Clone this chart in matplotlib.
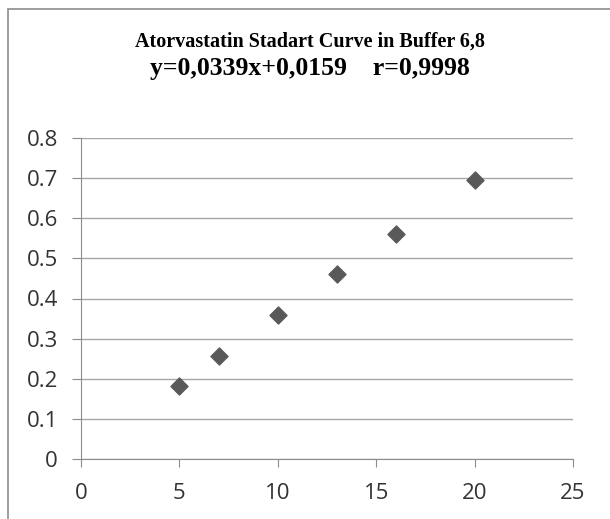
import matplotlib.pyplot as plt
from matplotlib.patches import Rectangle

# concentracion vs absorbancia
conc = [5, 7, 10, 13, 16, 20]
absorb = [0.182, 0.257, 0.359, 0.461, 0.561, 0.695]
y_ticks = [0, 0.1, 0.2, 0.3, 0.4, 0.5, 0.6, 0.7, 0.8]
y_labels = ["0", "0.1", "0.2", "0.3", "0.4", "0.5", "0.6", "0.7", "0.8"]
x_ticks = [0, 5, 10, 15, 20, 25]

fig = plt.figure(figsize=(6.10, 5.19), dpi=100)
fig.patches.append(Rectangle((8 / 610, -0.1), 1.2, 1 - 9 / 519 + 0.1, transform=fig.transFigure,
                             fill=False, edgecolor="#8c8c8c", linewidth=1.2))

ax = fig.add_axes([81 / 610, 60 / 519, 492 / 610, 321 / 519])
ax.scatter(conc, absorb, marker="D", s=75, color="#595959", zorder=3)

ax.set_xlim(0, 25)
ax.set_ylim(0, 0.8)
ax.set_xticks(x_ticks)
ax.set_yticks(y_ticks)
ax.set_yticklabels(y_labels)
ax.grid(axis="y", color="#a6a6a6", linewidth=1)
ax.set_axisbelow(True)

for s in ["top", "right"]:
    ax.spines[s].set_visible(False)
for s in ["left", "bottom"]:
    ax.spines[s].set_color("#8c8c8c")
ax.tick_params(colors="#8c8c8c", labelcolor="#333333", labelsize=16)
ax.tick_params(axis="y", length=6.7, pad=10)
ax.tick_params(axis="x", length=5.5, pad=12)
for lbl in ax.get_xticklabels() + ax.get_yticklabels():
    lbl.set_fontfamily("Open Sans")

fig.text(310 / 610, 1 - 42 / 519, "Atorvastatin Stadart Curve in Buffer 6,8", ha="center", va="center",
         fontfamily="Liberation Serif", fontweight="bold", fontsize=14.5)
fig.text(310 / 610, 1 - 68 / 519, "y=0,0339x+0,0159    r=0,9998", ha="center", va="center",
         fontfamily="Liberation Serif", fontweight="bold", fontsize=18.5)

fig.savefig("out.png", dpi=100)
